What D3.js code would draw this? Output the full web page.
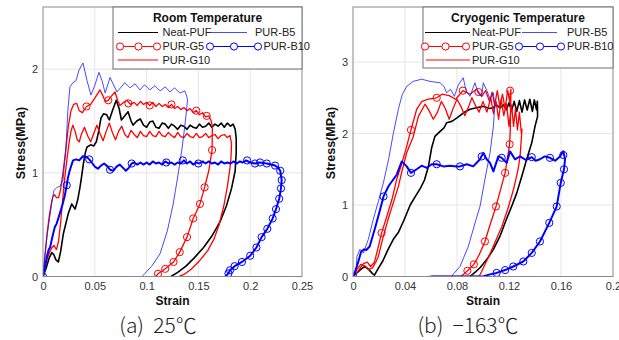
<!DOCTYPE html>
<html><head><meta charset="utf-8">
<script src="https://cdn.jsdelivr.net/npm/d3@7"></script>
<style>body{margin:0;background:#fff}svg{display:block}</style>
</head><body>
<svg id="c" width="619" height="340"></svg>
<script>
// ---------- DATA ----------
const seriesNames = ["Neat-PUF", "PUR-G5", "PUR-G10", "PUR-B5", "PUR-B10"];
const roomStrainTicks = [0, 0.05, 0.1, 0.15, 0.2, 0.25];
const roomStressTicks = [0, 1, 2];
const cryoStrainTicks = [0, 0.04, 0.08, 0.12, 0.16, 0.2];
const cryoStressTicks = [0, 1, 2, 3];
const panelTitles = ["Room Temperature", "Cryogenic Temperature"];
const captions = ["(a)\u00A0\u00A025℃", "(b)\u00A0\u00A0\u2212163℃"];

// Room temperature (25 °C): [strain, stress MPa]
const roomNeatPUF = [[0,0],[0.003,0.08],[0.006,0.18],[0.0085,0.23],[0.0105,0.21],[0.0125,0.16],[0.0148,0.14],[0.017,0.24],[0.0196,0.41],[0.0225,0.53],[0.0245,0.61],[0.0277,0.70],[0.031,0.65],[0.0335,0.74],[0.0357,0.86],[0.0375,0.98],[0.039,1.09],[0.041,1.2],[0.0425,1.25],[0.046,1.27],[0.049,1.26],[0.0515,1.3],[0.0535,1.39],[0.056,1.53],[0.0585,1.57],[0.0615,1.56],[0.064,1.51],[0.067,1.6],[0.0707,1.70],[0.0735,1.62],[0.0757,1.51],[0.079,1.55],[0.0821,1.59],[0.085,1.5],[0.0869,1.46],[0.0905,1.5],[0.0939,1.52],[0.097,1.46],[0.1,1.44],[0.103,1.49],[0.106,1.5],[0.109,1.44],[0.112,1.43],[0.115,1.48],[0.118,1.47],[0.121,1.43],[0.124,1.47],[0.127,1.45],[0.13,1.42],[0.133,1.46],[0.136,1.45],[0.139,1.42],[0.142,1.46],[0.145,1.44],[0.148,1.43],[0.151,1.47],[0.154,1.44],[0.157,1.45],[0.16,1.48],[0.163,1.44],[0.166,1.47],[0.169,1.45],[0.172,1.48],[0.175,1.44],[0.178,1.48],[0.181,1.45],[0.1835,1.47],[0.1855,1.42],[0.1865,1.33],[0.1865,1.2],[0.1855,1.02],[0.182,0.85],[0.177,0.68],[0.171,0.53],[0.163,0.39],[0.155,0.28],[0.146,0.18],[0.138,0.1],[0.13,0.04],[0.1235,0]];
const roomG5 = [[0,0],[0.002,0.22],[0.004,0.42],[0.006,0.58],[0.008,0.7],[0.0095,0.77],[0.011,0.79],[0.013,0.76],[0.015,0.76],[0.017,0.84],[0.019,0.98],[0.0215,1.18],[0.0245,1.45],[0.027,1.6],[0.0295,1.66],[0.0325,1.67],[0.035,1.6],[0.038,1.58],[0.042,1.64],[0.046,1.66],[0.05,1.72],[0.055,1.8],[0.058,1.74],[0.06,1.69],[0.063,1.7],[0.066,1.74],[0.0695,1.78],[0.072,1.7],[0.0743,1.65],[0.078,1.68],[0.081,1.7],[0.0845,1.66],[0.088,1.68],[0.091,1.65],[0.094,1.69],[0.097,1.66],[0.1,1.68],[0.103,1.65],[0.106,1.68],[0.109,1.64],[0.112,1.67],[0.115,1.64],[0.118,1.66],[0.121,1.63],[0.124,1.66],[0.127,1.62],[0.13,1.64],[0.133,1.61],[0.136,1.63],[0.139,1.6],[0.142,1.62],[0.145,1.58],[0.148,1.6],[0.151,1.56],[0.154,1.58],[0.157,1.54],[0.16,1.55],[0.162,1.51],[0.1635,1.45],[0.1632,1.22],[0.16,1.02],[0.156,0.86],[0.1515,0.70],[0.145,0.56],[0.139,0.38],[0.132,0.235],[0.126,0.14],[0.118,0.074],[0.111,0.026],[0.109,0]];
const roomG5Markers = [[0.042,1.64],[0.063,1.7],[0.0824,1.67],[0.103,1.65],[0.124,1.66],[0.148,1.6],[0.158,1.55],[0.1632,1.22],[0.156,0.86],[0.1515,0.70],[0.145,0.56],[0.139,0.38],[0.132,0.235],[0.126,0.14],[0.118,0.074],[0.111,0.026]];
const roomG10 = [[0,0],[0.002,0.1],[0.005,0.2],[0.008,0.27],[0.0105,0.3],[0.013,0.26],[0.015,0.34],[0.017,0.52],[0.019,0.74],[0.021,0.95],[0.023,1.12],[0.025,1.28],[0.027,1.4],[0.0288,1.46],[0.031,1.4],[0.033,1.32],[0.035,1.3],[0.037,1.37],[0.04,1.44],[0.043,1.36],[0.046,1.3],[0.049,1.38],[0.052,1.46],[0.055,1.38],[0.058,1.31],[0.061,1.4],[0.064,1.48],[0.067,1.39],[0.07,1.32],[0.073,1.4],[0.076,1.45],[0.079,1.37],[0.082,1.34],[0.085,1.41],[0.088,1.37],[0.091,1.34],[0.094,1.4],[0.097,1.36],[0.1,1.35],[0.103,1.4],[0.106,1.36],[0.109,1.35],[0.112,1.4],[0.115,1.36],[0.118,1.35],[0.121,1.39],[0.124,1.36],[0.127,1.34],[0.13,1.39],[0.133,1.35],[0.136,1.34],[0.139,1.38],[0.142,1.35],[0.145,1.34],[0.148,1.38],[0.151,1.34],[0.154,1.35],[0.157,1.38],[0.16,1.34],[0.163,1.36],[0.166,1.37],[0.169,1.33],[0.172,1.36],[0.175,1.37],[0.178,1.34],[0.1805,1.36],[0.182,1.28],[0.1815,1.15],[0.1805,1.05],[0.178,0.87],[0.1745,0.68],[0.17,0.5],[0.165,0.36],[0.159,0.25],[0.151,0.15],[0.143,0.07],[0.136,0.02],[0.131,0]];
const roomB5 = [[0,0],[0.002,0.2],[0.004,0.4],[0.0068,0.59],[0.0087,0.73],[0.0106,0.83],[0.0135,0.86],[0.0164,0.87],[0.0193,0.93],[0.022,1.22],[0.024,1.6],[0.026,1.83],[0.029,1.87],[0.0319,1.89],[0.0347,1.99],[0.0386,2.06],[0.0425,1.89],[0.0463,1.75],[0.0502,1.85],[0.054,1.97],[0.057,1.89],[0.06,1.77],[0.0647,1.92],[0.0714,1.78],[0.079,1.87],[0.084,1.82],[0.0888,1.86],[0.0936,1.8],[0.098,1.85],[0.103,1.8],[0.108,1.84],[0.113,1.79],[0.118,1.83],[0.1226,1.78],[0.127,1.82],[0.132,1.77],[0.137,1.79],[0.139,1.73],[0.1395,1.7],[0.137,1.46],[0.134,1.22],[0.13,0.96],[0.1255,0.69],[0.12,0.44],[0.113,0.22],[0.105,0.1],[0.0965,0.01],[0.096,0]];
const roomB10 = [[0,0],[0.0015,0.08],[0.0035,0.18],[0.0055,0.26],[0.0068,0.28],[0.009,0.38],[0.0115,0.48],[0.0132,0.51],[0.016,0.6],[0.019,0.7],[0.021,0.78],[0.0229,0.88],[0.024,0.95],[0.026,1.03],[0.029,1.12],[0.032,1.13],[0.035,1.12],[0.0385,1.16],[0.0425,1.15],[0.0446,1.13],[0.047,1.1],[0.05,1.06],[0.053,1.04],[0.056,1.07],[0.059,1.09],[0.0625,1.06],[0.0647,1.03],[0.068,1.02],[0.071,1.06],[0.074,1.08],[0.077,1.05],[0.08,1.02],[0.083,1.05],[0.0856,1.09],[0.088,1.1],[0.091,1.08],[0.094,1.1],[0.097,1.08],[0.1,1.1],[0.103,1.08],[0.106,1.11],[0.109,1.09],[0.112,1.1],[0.115,1.08],[0.118,1.11],[0.121,1.09],[0.124,1.1],[0.127,1.08],[0.13,1.1],[0.133,1.09],[0.136,1.12],[0.139,1.09],[0.142,1.11],[0.145,1.08],[0.148,1.1],[0.151,1.09],[0.154,1.11],[0.157,1.09],[0.16,1.11],[0.163,1.09],[0.166,1.1],[0.169,1.08],[0.172,1.11],[0.175,1.09],[0.178,1.1],[0.181,1.09],[0.184,1.11],[0.187,1.09],[0.19,1.11],[0.193,1.1],[0.196,1.12],[0.2,1.1],[0.2046,1.09],[0.2095,1.1],[0.216,1.09],[0.22,1.08],[0.224,1.07],[0.227,1.05],[0.229,1.02],[0.2304,0.93],[0.2297,0.85],[0.228,0.75],[0.2249,0.65],[0.2217,0.56],[0.2165,0.46],[0.211,0.38],[0.206,0.28],[0.2,0.2],[0.192,0.14],[0.185,0.1],[0.1805,0.06],[0.179,0.03],[0.176,0]];
const roomB10Markers = [[0,0],[0.0229,0.88],[0.0446,1.13],[0.0647,1.03],[0.0856,1.09],[0.119,1.1],[0.135,1.12],[0.15,1.09],[0.197,1.12],[0.2046,1.09],[0.2095,1.1],[0.216,1.09],[0.224,1.07],[0.229,1.02],[0.2304,0.93],[0.2297,0.85],[0.228,0.75],[0.2249,0.65],[0.2217,0.56],[0.2165,0.46],[0.211,0.38],[0.206,0.28],[0.2,0.2],[0.192,0.14],[0.185,0.1],[0.1805,0.06],[0.179,0.03]];

// Cryogenic temperature (-163 °C)
const cryoNeatPUF = [[0,0],[0.003,0.05],[0.006,0.1],[0.009,0.14],[0.012,0.1],[0.015,0.04],[0.0165,0.02],[0.019,0.1],[0.023,0.22],[0.027,0.38],[0.031,0.52],[0.035,0.62],[0.039,0.78],[0.044,1.0],[0.048,1.12],[0.052,1.24],[0.055,1.35],[0.058,1.54],[0.0605,1.8],[0.063,1.96],[0.067,2.03],[0.07,2.08],[0.072,2.15],[0.076,2.17],[0.08,2.22],[0.085,2.29],[0.09,2.34],[0.095,2.36],[0.1,2.38],[0.105,2.35],[0.108,2.36],[0.11,2.41],[0.113,2.36],[0.1156,2.4],[0.118,2.33],[0.12,2.43],[0.122,2.32],[0.124,2.45],[0.126,2.31],[0.128,2.46],[0.13,2.3],[0.132,2.47],[0.134,2.33],[0.136,2.48],[0.138,2.31],[0.1395,2.47],[0.1412,2.33],[0.1418,2.45],[0.142,2.24],[0.14,2.1],[0.1375,1.87],[0.1336,1.64],[0.1298,1.4],[0.126,1.17],[0.122,0.98],[0.118,0.8],[0.113,0.56],[0.108,0.38],[0.103,0.24],[0.098,0.13],[0.094,0.06],[0.09,0]];
const cryoG5 = [[0,0],[0.004,0.08],[0.008,0.18],[0.011,0.2],[0.0135,0.14],[0.0165,0.2],[0.019,0.38],[0.022,0.61],[0.026,0.84],[0.03,1.08],[0.0336,1.36],[0.037,1.55],[0.041,1.8],[0.0446,2.05],[0.049,2.34],[0.053,2.45],[0.058,2.48],[0.0644,2.5],[0.0685,2.55],[0.074,2.53],[0.079,2.48],[0.0845,2.6],[0.09,2.55],[0.095,2.62],[0.099,2.52],[0.102,2.6],[0.105,2.45],[0.107,2.58],[0.109,2.4],[0.111,2.6],[0.113,2.38],[0.115,2.55],[0.117,2.35],[0.119,2.6],[0.1205,2.45],[0.1215,2.62],[0.1212,2.3],[0.121,2.05],[0.1205,1.85],[0.117,1.45],[0.11,0.98],[0.105,0.7],[0.1015,0.49],[0.097,0.3],[0.093,0.17],[0.088,0.08],[0.085,0.03],[0.083,0]];
const cryoG5Markers = [[0.022,0.61],[0.0446,2.05],[0.0644,2.5],[0.0845,2.6],[0.0965,2.58],[0.1208,2.6],[0.1205,1.85],[0.117,1.45],[0.11,0.98],[0.1015,0.49],[0.093,0.17],[0.088,0.08]];
const cryoG10 = [[0,0],[0.003,0.1],[0.006,0.17],[0.009,0.15],[0.012,0.1],[0.015,0.12],[0.0175,0.2],[0.0195,0.28],[0.0233,0.56],[0.027,0.8],[0.031,1.03],[0.0349,1.26],[0.038,1.5],[0.0413,1.73],[0.0464,1.96],[0.0503,2.24],[0.0554,2.41],[0.0585,2.32],[0.0618,2.2],[0.065,2.3],[0.068,2.45],[0.071,2.35],[0.074,2.2],[0.077,2.35],[0.08,2.48],[0.083,2.38],[0.086,2.25],[0.089,2.38],[0.0915,2.5],[0.094,2.4],[0.097,2.3],[0.1,2.45],[0.103,2.3],[0.106,2.5],[0.108,2.28],[0.11,2.45],[0.112,2.2],[0.114,2.48],[0.116,2.25],[0.118,2.42],[0.12,2.1],[0.122,2.4],[0.1235,2.1],[0.125,2.35],[0.1265,2.05],[0.128,2.3],[0.1295,2.0],[0.13,2.06],[0.1285,1.68],[0.127,1.5],[0.1235,1.22],[0.119,0.94],[0.1145,0.7],[0.109,0.47],[0.105,0.3],[0.101,0.15],[0.099,0.07],[0.097,0],[0.058,0]];
const cryoB5 = [[0,0],[0.0025,0.1],[0.003,0.28],[0.0054,0.38],[0.008,0.33],[0.0118,0.52],[0.0156,0.8],[0.0195,1.05],[0.0235,1.32],[0.0275,1.65],[0.031,2.0],[0.035,2.35],[0.038,2.55],[0.0413,2.66],[0.0464,2.73],[0.0528,2.76],[0.0592,2.73],[0.0669,2.71],[0.07,2.66],[0.072,2.57],[0.075,2.62],[0.078,2.52],[0.081,2.68],[0.0848,2.78],[0.087,2.6],[0.09,2.52],[0.0938,2.71],[0.0965,2.55],[0.099,2.52],[0.1002,2.71],[0.103,2.6],[0.1054,2.48],[0.108,2.57],[0.109,2.38],[0.108,2.1],[0.1054,1.73],[0.1015,1.36],[0.0977,0.98],[0.095,0.82],[0.0887,0.42],[0.0823,0.14],[0.077,0.03],[0.076,0],[0,0]];
const cryoB10 = [[0,0],[0.0013,0.05],[0.0038,0.19],[0.0063,0.35],[0.0085,0.38],[0.0102,0.37],[0.0128,0.42],[0.0167,0.66],[0.0203,0.9],[0.0235,1.12],[0.0275,1.27],[0.0335,1.42],[0.0375,1.61],[0.0413,1.54],[0.0446,1.45],[0.049,1.5],[0.0528,1.55],[0.0567,1.52],[0.0605,1.57],[0.0644,1.57],[0.0695,1.54],[0.0746,1.55],[0.0798,1.54],[0.0823,1.54],[0.0875,1.57],[0.0925,1.54],[0.0977,1.64],[0.1002,1.73],[0.1028,1.64],[0.1054,1.59],[0.108,1.47],[0.1118,1.68],[0.1144,1.66],[0.1182,1.59],[0.1208,1.75],[0.1246,1.64],[0.1285,1.68],[0.133,1.63],[0.1375,1.67],[0.1405,1.62],[0.1438,1.64],[0.1475,1.68],[0.1515,1.66],[0.1555,1.62],[0.1592,1.68],[0.1618,1.75],[0.1631,1.64],[0.1623,1.5],[0.1598,1.31],[0.1567,0.98],[0.151,0.75],[0.1438,0.49],[0.1375,0.33],[0.131,0.21],[0.1233,0.14],[0.117,0.09],[0.1105,0.05],[0.1054,0.03],[0.1,0],[0.06,0]];
const cryoB10Markers = [[0,0],[0.0235,1.12],[0.0446,1.45],[0.0644,1.57],[0.0823,1.54],[0.099,1.68],[0.1144,1.66],[0.1375,1.67],[0.1515,1.66],[0.1618,1.7],[0.1623,1.5],[0.1598,1.31],[0.1567,0.98],[0.151,0.75],[0.1438,0.49],[0.1375,0.33],[0.131,0.21],[0.1233,0.14],[0.117,0.09],[0.1105,0.05]];

// ---------- STYLES ----------
const styles = {
  "Neat-PUF": {color: "#000000", width: 1.6},
  "PUR-G5":   {color: "#ff0000", width: 1.3},
  "PUR-G10":  {color: "#ff0000", width: 1.3},
  "PUR-B5":   {color: "#1a1aff", width: 0.8},
  "PUR-B10":  {color: "#0000ff", width: 2}
};
const FONT = "'Liberation Sans', Arial, Helvetica, sans-serif";
const svg = d3.select("#c");

function drawPanel(cfg) {
  const x = d3.scaleLinear().domain(cfg.xDomain).range([cfg.left, cfg.right]);
  const y = d3.scaleLinear().domain(cfg.yDomain).range([cfg.bottom, cfg.top]);
  const g = svg.append("g");
  const clipId = "clip" + cfg.id;
  g.append("clipPath").attr("id", clipId).append("rect")
    .attr("x", cfg.left).attr("y", cfg.top)
    .attr("width", cfg.right - cfg.left).attr("height", cfg.bottom - cfg.top);

  // grid
  g.append("g").selectAll("line").data(cfg.xTicks.filter(d => d > 0 && x(d) < cfg.right - 1)).join("line")
    .attr("x1", d => x(d)).attr("x2", d => x(d)).attr("y1", cfg.top).attr("y2", cfg.bottom)
    .attr("stroke", "#e6e6e6").attr("stroke-width", 1);
  g.append("g").selectAll("line").data(cfg.yTicks.filter(d => d > 0)).join("line")
    .attr("x1", cfg.left).attr("x2", cfg.right).attr("y1", d => y(d)).attr("y2", d => y(d))
    .attr("stroke", "#e6e6e6").attr("stroke-width", 1);

  // axes
  const xa = g.append("g").attr("transform", `translate(0,${cfg.bottom})`)
    .call(d3.axisBottom(x).tickValues(cfg.xTicks).tickSize(0).tickPadding(6).tickFormat(d => String(d)));
  const ya = g.append("g").attr("transform", `translate(${cfg.left},0)`)
    .call(d3.axisLeft(y).tickValues(cfg.yTicks).tickSize(0).tickPadding(5).tickFormat(d => String(d)));
  [xa, ya].forEach(a => {
    a.select(".domain").remove();
    a.selectAll("text").attr("font-family", FONT).attr("font-size", 11).attr("fill", "#333");
  });

  // series
  const line = d3.line().x(d => x(d[0])).y(d => y(d[1]));
  const plot = g.append("g").attr("clip-path", `url(#${clipId})`);
  cfg.series.forEach(s => {
    const st = styles[s.name];
    plot.append("path").datum(s.data).attr("d", line)
      .attr("fill", "none").attr("stroke", st.color).attr("stroke-width", st.width)
      .attr("stroke-linejoin", "round");
    if (s.markers) {
      plot.append("g").selectAll("circle").data(s.markers).join("circle")
        .attr("cx", d => x(d[0])).attr("cy", d => y(d[1])).attr("r", 3.6)
        .attr("fill", "none").attr("stroke", st.color).attr("stroke-width", 1);
    }
  });

  // frame
  g.append("rect").attr("x", cfg.left).attr("y", cfg.top)
    .attr("width", cfg.right - cfg.left).attr("height", cfg.bottom - cfg.top)
    .attr("fill", "none").attr("stroke", "#8a8a8a").attr("stroke-width", 1);

  // axis titles
  g.append("text").attr("x", (cfg.left + cfg.right) / 2).attr("y", cfg.bottom + 28)
    .attr("text-anchor", "middle").attr("font-family", FONT).attr("font-weight", "bold")
    .attr("font-size", 12).attr("fill", "#111").text("Strain");
  g.append("text").attr("transform", `translate(${cfg.ylabelX},${cfg.ylabelY}) rotate(-90)`)
    .attr("text-anchor", "middle").attr("font-family", FONT).attr("font-weight", "bold")
    .attr("font-size", 12.5).attr("fill", "#111").text("Stress(MPa)");

  // caption
  g.append("text").attr("x", cfg.captionX).attr("y", 333).attr("text-anchor", "middle")
    .attr("font-family", "'Noto Sans CJK KR', 'Noto Sans', sans-serif").attr("font-size", 21)
    .attr("font-weight", 300).attr("fill", "#222").text(cfg.caption);

  // legend
  const L = cfg.legend;
  const lg = g.append("g");
  lg.append("rect").attr("x", L.x0).attr("y", cfg.top).attr("width", cfg.right - L.x0)
    .attr("height", L.bottom - cfg.top).attr("fill", "#fff").attr("stroke", "#6e6e6e").attr("stroke-width", 1);
  lg.append("text").attr("x", (L.x0 + cfg.right) / 2).attr("y", cfg.top + 15).attr("text-anchor", "middle")
    .attr("font-family", FONT).attr("font-weight", "bold").attr("font-size", 12).attr("fill", "#111")
    .text(cfg.title);
  L.items.forEach(it => {
    const st = styles[it.name];
    lg.append("line").attr("x1", it.x1).attr("x2", it.x2).attr("y1", it.y).attr("y2", it.y)
      .attr("stroke", st.color).attr("stroke-width", Math.min(st.width, 1.2));
    if (it.marks) {
      lg.append("g").selectAll("circle").data(it.marks).join("circle")
        .attr("cx", d => d).attr("cy", it.y).attr("r", 3.6)
        .attr("fill", "#fff").attr("stroke", st.color).attr("stroke-width", 1);
    }
    lg.append("text").attr("x", it.tx).attr("y", it.y + 3.8).attr("font-family", FONT)
      .attr("font-size", 11).attr("fill", "#222").text(it.name);
  });
}

drawPanel({
  id: "a", left: 43, right: 302, top: 7, bottom: 276.5,
  xDomain: [0, 0.25], yDomain: [0, 2.6], xTicks: roomStrainTicks, yTicks: roomStressTicks,
  ylabelX: 25, ylabelY: 143, caption: captions[0], captionX: 158, title: panelTitles[0],
  series: [
    {name: seriesNames[0], data: roomNeatPUF},
    {name: seriesNames[1], data: roomG5, markers: roomG5Markers},
    {name: seriesNames[2], data: roomG10},
    {name: seriesNames[3], data: roomB5},
    {name: seriesNames[4], data: roomB10, markers: roomB10Markers}
  ],
  legend: {x0: 113, bottom: 69, items: [
    {name: seriesNames[0], x1: 118, x2: 158, y: 32.5, tx: 162.5},
    {name: seriesNames[1], x1: 120, x2: 157, y: 46.5, tx: 162.5, marks: [120, 138.5, 157]},
    {name: seriesNames[2], x1: 118, x2: 158, y: 60, tx: 162.5},
    {name: seriesNames[3], x1: 211, x2: 247, y: 32.5, tx: 255},
    {name: seriesNames[4], x1: 210, x2: 258, y: 46.5, tx: 263.5, marks: [210, 234, 258]}
  ]}
});

drawPanel({
  id: "b", left: 353, right: 613, top: 7, bottom: 276.5,
  xDomain: [0, 0.2], yDomain: [0, 3.77], xTicks: cryoStrainTicks, yTicks: cryoStressTicks,
  ylabelX: 335, ylabelY: 143, caption: captions[1], captionX: 468, title: panelTitles[1],
  series: [
    {name: seriesNames[0], data: cryoNeatPUF},
    {name: seriesNames[1], data: cryoG5, markers: cryoG5Markers},
    {name: seriesNames[2], data: cryoG10},
    {name: seriesNames[3], data: cryoB5},
    {name: seriesNames[4], data: cryoB10, markers: cryoB10Markers}
  ],
  legend: {x0: 423, bottom: 68, items: [
    {name: seriesNames[0], x1: 425, x2: 470, y: 32.5, tx: 472},
    {name: seriesNames[1], x1: 425, x2: 466, y: 46.5, tx: 472, marks: [425, 445.5, 466]},
    {name: seriesNames[2], x1: 426, x2: 470, y: 60, tx: 472},
    {name: seriesNames[3], x1: 522, x2: 557, y: 32.5, tx: 567},
    {name: seriesNames[4], x1: 519, x2: 561, y: 46.5, tx: 567, marks: [519, 540, 561]}
  ]}
});
</script>
</body></html>
